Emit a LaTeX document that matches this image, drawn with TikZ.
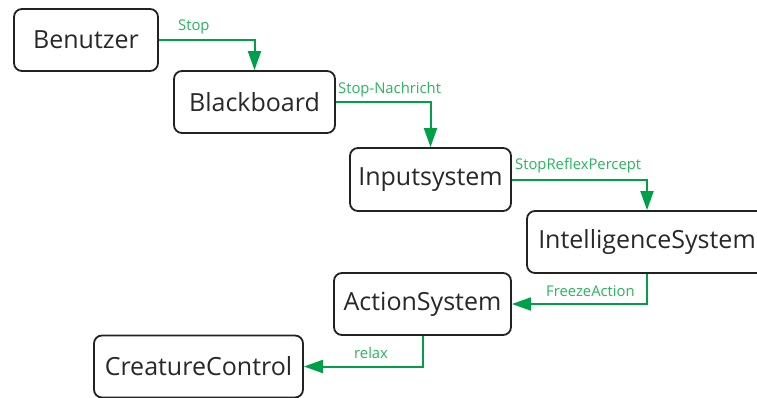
\documentclass[tikz,border=0pt]{standalone}
\usepackage{fontspec}
\setmainfont{Open Sans}
\usetikzlibrary{arrows.meta}
\definecolor{boxline}{RGB}{34,34,34}
\definecolor{txt}{RGB}{40,40,40}
\definecolor{flow}{RGB}{0,160,75}
\definecolor{flowtxt}{RGB}{40,180,95}
\tikzset{
  stepbox/.style={draw=boxline, line width=1.8pt, rounded corners=8pt, fill=white,
    inner sep=0pt, text=txt, font=\fontsize{25}{28}\selectfont},
  flowline/.style={draw=flow, line width=2pt, -{Triangle[length=19pt,width=13pt]}},
  flowlabel/.style={text=flowtxt, font=\fontsize{14.8}{16}\selectfont, inner sep=0pt, anchor=west}
}
\begin{document}
\begin{tikzpicture}[x=1pt,y=-1pt]
\useasboundingbox (0,0) rectangle (757,397);
\node[stepbox, minimum width=144pt, minimum height=62pt] (ben) at (86,40) {Benutzer};
\node[stepbox, minimum width=161pt, minimum height=62pt] (bb) at (254.5,102) {Blackboard};
\node[stepbox, minimum width=161pt, minimum height=63pt] (inp) at (430.5,179.5) {Inputsystem};
\node[stepbox, minimum width=240pt, minimum height=62pt] (intel) at (647,242) {IntelligenceSystem};
\node[stepbox, minimum width=177pt, minimum height=62pt] (act) at (422.5,304) {ActionSystem};
\node[stepbox, minimum width=209pt, minimum height=62pt] (cc) at (198.5,366.5) {CreatureControl};

\draw[flowline] (ben.east) -| (bb.north);
\draw[flowline] (bb.east) -| (inp.north);
\draw[flowline] (inp.east) -| (intel.north);
\draw[flowline] (intel.south) |- (act.east);
\draw[flowline] (act.south) |- (cc.east);

\node[flowlabel] (l1) at (178,27) {Stop};
\node[flowlabel] (l2) at (338,90) {Stop-Nachricht};
\node[flowlabel] (l3) at (515,166) {StopReflexPercept};
\node[flowlabel] (l4) at (546,291) {FreezeAction};
\node[flowlabel] (l5) at (354,353) {relax};
\end{tikzpicture}
\end{document}
